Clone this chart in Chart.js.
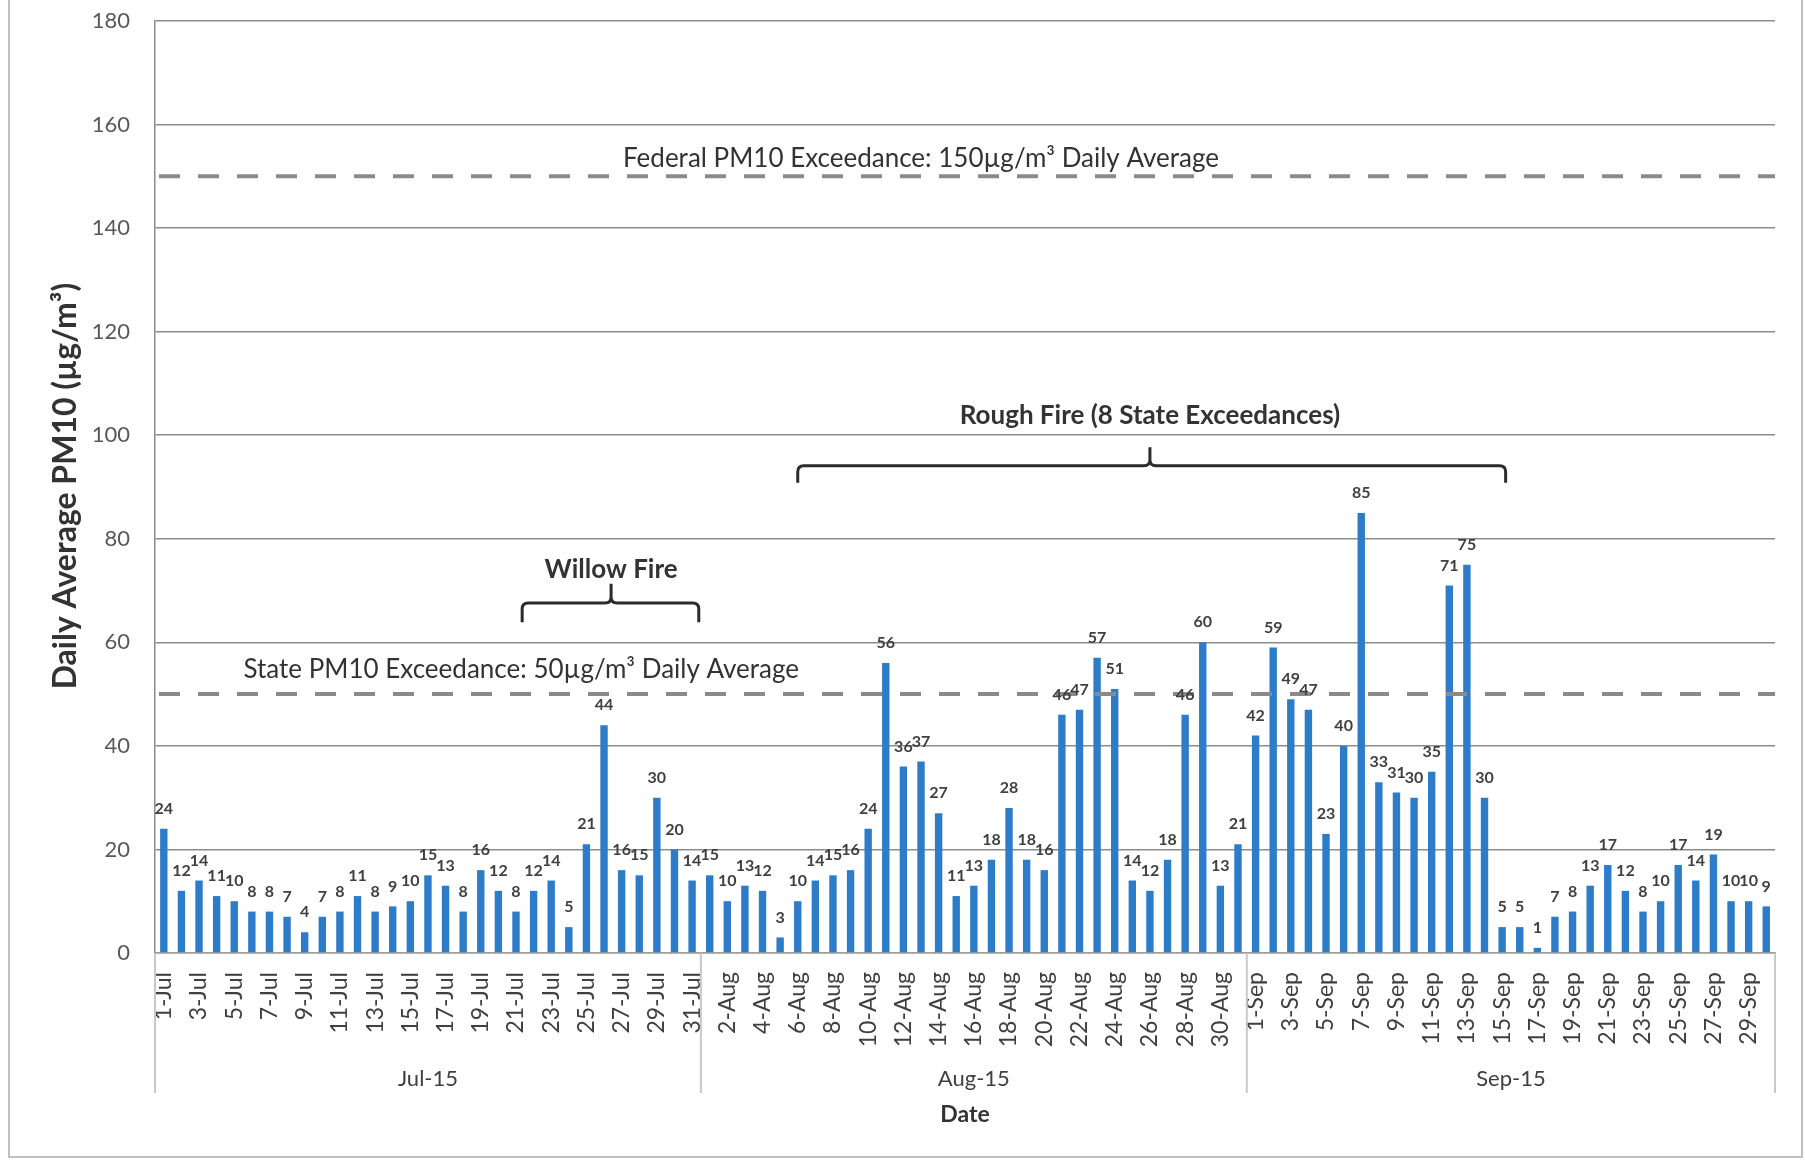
<!DOCTYPE html>
<html>
<head>
<meta charset="utf-8">
<title>Daily Average PM10</title>
<script src="https://cdn.jsdelivr.net/npm/chart.js@4.4.1/dist/chart.umd.min.js"></script>
<style>
  html, body { margin: 0; padding: 0; background: #fff; }
  canvas { display: block; }
</style>
</head>
<body>
<canvas id="pm10Chart" width="1805" height="1161"></canvas>
<script>
        // Daily average PM10 (µg/m3), July - September 2015
        const months = ['Jul', 'Aug', 'Sep'];
        const monthLabels = ['Jul-15', 'Aug-15', 'Sep-15'];
        const daysInMonth = [31, 31, 30];

        const julValues = [24, 12, 14, 11, 10, 8, 8, 7, 4, 7, 8, 11, 8, 9, 10, 15,
                           13, 8, 16, 12, 8, 12, 14, 5, 21, 44, 16, 15, 30, 20, 14];
        const augValues = [15, 10, 13, 12, 3, 10, 14, 15, 16, 24, 56, 36, 37, 27, 11, 13,
                           18, 28, 18, 16, 46, 47, 57, 51, 14, 12, 18, 46, 60, 13, 21];
        const sepValues = [42, 59, 49, 47, 23, 40, 85, 33, 31, 30, 35, 71, 75, 30, 5,
                           5, 1, 7, 8, 13, 17, 12, 8, 10, 17, 14, 19, 10, 10, 9];

        const yTicks = [0, 20, 40, 60, 80, 100, 120, 140, 160, 180];
        const federalLimit = 150;
        const stateLimit = 50;

        // Build the category labels ("1-Jul" ...)
        const labels = [];
        months.forEach((m, mi) => {
            for (let d = 1; d <= daysInMonth[mi]; d++) {
                labels.push(d + '-' + m);
            }
        });
        const pm10 = julValues.concat(augValues, sepValues);

        const FONT = 'Lato, "Open Sans", sans-serif';
        const ctx = document.getElementById('pm10Chart').getContext('2d');

        // Custom drawing: limit lines, brackets, value labels, month groups, titles
        const decorations = {
            id: 'decorations',
            afterDatasetsDraw(chart) {
                const c = chart.ctx;
                const x = chart.scales.x;
                const y = chart.scales.y;
                const area = chart.chartArea;

                // dashed exceedance lines
                c.save();
                c.strokeStyle = '#8a8a8a';
                c.lineWidth = 4;
                c.setLineDash([21, 18]);
                [federalLimit, stateLimit].forEach(v => {
                    const py = y.getPixelForValue(v);
                    c.beginPath();
                    c.moveTo(area.left + 4, py);
                    c.lineTo(area.right, py);
                    c.stroke();
                });
                c.restore();

                // value labels above bars
                c.save();
                c.font = 'bold 16px ' + FONT;
                c.fillStyle = '#404040';
                c.textAlign = 'center';
                c.textBaseline = 'middle';
                const meta = chart.getDatasetMeta(0);
                meta.data.forEach((bar, i) => {
                    c.fillText(String(pm10[i]), bar.x, bar.y - 20);
                });
                c.restore();

                // annotation texts
                c.save();
                c.fillStyle = '#333333';
                c.textAlign = 'center';
                c.textBaseline = 'middle';
                c.font = '26px ' + FONT;
                c.fillText('Federal PM10 Exceedance: 150µg/m³ Daily Average',
                    x.getPixelForValue(43.0), y.getPixelForValue(153.5));
                c.fillText('State PM10 Exceedance: 50µg/m³ Daily Average',
                    x.getPixelForValue(20.3), y.getPixelForValue(54.7));
                c.font = 'bold 26px ' + FONT;
                c.fillText('Willow Fire', x.getPixelForValue(25.4), y.getPixelForValue(74));
                c.fillText('Rough Fire (8 State Exceedances)',
                    x.getPixelForValue(56.0), y.getPixelForValue(103.8));
                c.restore();

                // curly brackets
                function bracket(i0, i1, it, vEnd, vH, vTip) {
                    const x0 = x.getPixelForValue(i0);
                    const x1 = x.getPixelForValue(i1);
                    const xt = x.getPixelForValue(it);
                    const yE = y.getPixelForValue(vEnd);
                    const yH = y.getPixelForValue(vH);
                    const yT = y.getPixelForValue(vTip);
                    const r = 6;
                    c.beginPath();
                    c.moveTo(x0, yE);
                    c.lineTo(x0, yH + r);
                    c.quadraticCurveTo(x0, yH, x0 + r, yH);
                    c.lineTo(xt - r, yH);
                    c.quadraticCurveTo(xt, yH, xt, yH - r);
                    c.lineTo(xt, yT);
                    c.moveTo(xt, yH - r);
                    c.quadraticCurveTo(xt, yH, xt + r, yH);
                    c.lineTo(x1 - r, yH);
                    c.quadraticCurveTo(x1, yH, x1, yH + r);
                    c.lineTo(x1, yE);
                    c.stroke();
                }
                c.save();
                c.strokeStyle = '#2b2b2b';
                c.lineWidth = 3;
                bracket(20.35, 30.38, 25.4, 63.9, 67.6, 71.3);
                bracket(36.0, 76.2, 56.0, 90.8, 94.1, 97.7);
                c.restore();
            },
            afterDraw(chart) {
                const c = chart.ctx;
                const x = chart.scales.x;
                const area = chart.chartArea;

                // month group separators and labels
                c.save();
                c.strokeStyle = '#c8c8c8';
                c.lineWidth = 2;
                let start = 0;
                const bounds = [area.left];
                daysInMonth.forEach(n => {
                    start += n;
                    bounds.push(start === labels.length ? area.right : x.getPixelForValue(start - 0.5));
                });
                bounds.forEach(bx => {
                    c.beginPath();
                    c.moveTo(bx, area.bottom);
                    c.lineTo(bx, 1093);
                    c.stroke();
                });
                c.fillStyle = '#404040';
                c.font = '22px ' + FONT;
                c.textAlign = 'center';
                c.textBaseline = 'middle';
                monthLabels.forEach((m, i) => {
                    c.fillText(m, (bounds[i] + bounds[i + 1]) / 2, 1079);
                });
                c.restore();

                // axis titles
                c.save();
                c.fillStyle = '#333333';
                c.textAlign = 'center';
                c.textBaseline = 'middle';
                c.font = 'bold 23px ' + FONT;
                c.fillText('Date', (area.left + area.right) / 2, 1115);
                c.translate(66, 486);
                c.rotate(-Math.PI / 2);
                c.font = 'bold 32px ' + FONT;
                c.fillText('Daily Average PM10 (µg/m³)', 0, 0);
                c.restore();

                // outer frame
                c.save();
                c.strokeStyle = '#c0c0c0';
                c.lineWidth = 2;
                c.beginPath();
                c.moveTo(9, 0);
                c.lineTo(9, 1157);
                c.lineTo(1802, 1157);
                c.lineTo(1802, 0);
                c.stroke();
                c.restore();
            }
        };

        const pm10Chart = new Chart(ctx, {
            type: 'bar',
            data: {
                labels: labels,
                datasets: [{
                    label: 'Daily Average PM10',
                    data: pm10,
                    backgroundColor: '#2d7cc9',
                    barPercentage: 0.42,
                    categoryPercentage: 1.0
                }]
            },
            options: {
                responsive: false,
                animation: false,
                layout: {
                    padding: { top: 21, right: 26, left: 0, bottom: 0 }
                },
                plugins: {
                    legend: { display: false },
                    tooltip: { enabled: false }
                },
                scales: {
                    x: {
                        grid: { display: false },
                        border: { color: '#a0a0a0', width: 1.5 },
                        ticks: {
                            autoSkip: false,
                            maxRotation: 90,
                            minRotation: 90,
                            padding: 11,
                            color: '#404040',
                            font: { family: FONT, size: 23 },
                            callback: function (value, index) {
                                return index % 2 === 0 ? this.getLabelForValue(value) : '';
                            }
                        },
                        afterFit: scale => { scale.height = 208; }
                    },
                    y: {
                        min: yTicks[0],
                        max: yTicks[yTicks.length - 1],
                        afterBuildTicks: scale => {
                            scale.ticks = yTicks.map(v => ({ value: v }));
                        },
                        grid: { color: '#8c8c8c', lineWidth: 1.5, drawTicks: false },
                        border: { color: '#8c8c8c', width: 1.5 },
                        ticks: {
                            padding: 25,
                            color: '#595959',
                            font: { family: FONT, size: 22 }
                        },
                        afterFit: scale => {
                            scale.width = 155;
                            scale.paddingTop = 0;
                            scale.paddingBottom = 0;
                        }
                    }
                }
            },
            plugins: [decorations]
        });
</script>
</body>
</html>
